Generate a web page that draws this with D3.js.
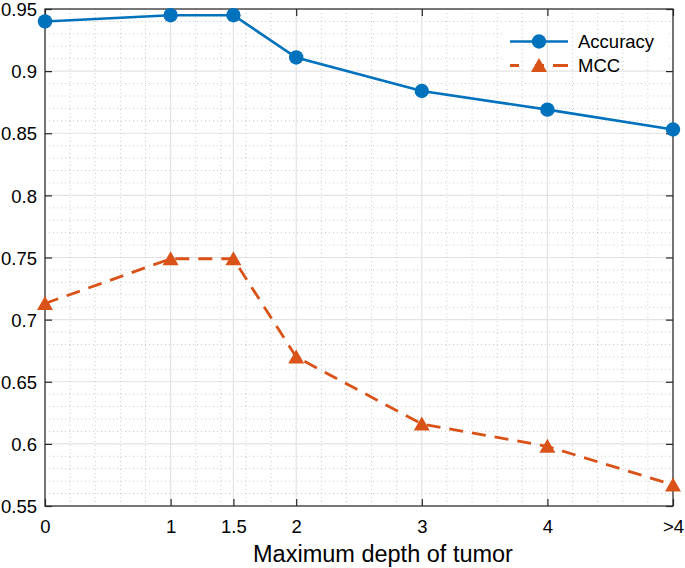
<!DOCTYPE html>
<html><head><meta charset="utf-8">
<script src="https://cdn.jsdelivr.net/npm/d3@7"></script>
<style>body{margin:0;background:#fff}svg{display:block}text{font-family:"Liberation Sans",Arial,Helvetica,sans-serif;fill:#000}</style>
</head><body>
<svg id="c" width="685" height="568"></svg>
<script>
const xPositions = [0, 1, 1.5, 2, 3, 4, 5];
const xTickLabels = ["0", "1", "1.5", "2", "3", "4", ">4"];
const accuracy = [0.940, 0.945, 0.945, 0.911, 0.884, 0.869, 0.853];
const mcc = [0.713, 0.749, 0.749, 0.670, 0.616, 0.598, 0.567];
const yTicks = [0.55, 0.6, 0.65, 0.7, 0.75, 0.8, 0.85, 0.9, 0.95];
const yTickLabels = ["0.55", "0.6", "0.65", "0.7", "0.75", "0.8", "0.85", "0.9", "0.95"];
const seriesNames = ["Accuracy", "MCC"];

const svg = d3.select("#c");
const L = 45, R = 673, T = 9, B = 506;
const x = d3.scaleLinear().domain([0, 5]).range([L, R]);
const y = d3.scaleLinear().domain([0.55, 0.95]).range([B, T]);
const blue = "#0072BD", orange = "#D95319";

// minor horizontal grid
const yMinor = d3.range(55, 96).map(v => v / 100).filter(v => !yTicks.some(t => Math.abs(t - v) < 1e-9));
svg.append("g").selectAll("line").data(yMinor).join("line")
  .attr("x1", L).attr("x2", R).attr("y1", d => y(d)).attr("y2", d => y(d))
  .attr("stroke", "#bdbdbd").attr("stroke-width", 0.8).attr("stroke-dasharray", "1,3");
// major horizontal grid
svg.append("g").selectAll("line").data(yTicks).join("line")
  .attr("x1", L).attr("x2", R).attr("y1", d => y(d)).attr("y2", d => y(d))
  .attr("stroke", "#e3e3e3").attr("stroke-width", 1.2);

// legend background
svg.append("rect").attr("x", 505).attr("y", 28).attr("width", 163).attr("height", 41).attr("fill", "#fff");

// minor vertical grid
const xMinor = d3.range(0, 26).map(v => v / 5).filter(v => !xPositions.some(t => Math.abs(t - v) < 1e-9));
svg.append("g").selectAll("line").data(xMinor).join("line")
  .attr("y1", T).attr("y2", B).attr("x1", d => x(d)).attr("x2", d => x(d))
  .attr("stroke", "#bdbdbd").attr("stroke-width", 0.8).attr("stroke-dasharray", "1,3");
// major vertical grid
svg.append("g").selectAll("line").data(xPositions).join("line")
  .attr("y1", T).attr("y2", B).attr("x1", d => x(d)).attr("x2", d => x(d))
  .attr("stroke", "#e3e3e3").attr("stroke-width", 1.2);

// axes box
svg.append("rect").attr("x", L).attr("y", T).attr("width", R - L).attr("height", B - T)
  .attr("fill", "none").attr("stroke", "#262626").attr("stroke-width", 1.2);

const bottomAxis = d3.axisBottom(x).tickValues(xPositions).tickFormat((d, i) => xTickLabels[i]).tickSizeInner(-7).tickSizeOuter(0).tickPadding(14);
const gb = svg.append("g").attr("transform", `translate(0,${B})`).call(bottomAxis);
const topAxis = d3.axisTop(x).tickValues(xPositions).tickFormat("").tickSizeInner(-7).tickSizeOuter(0);
const gt = svg.append("g").attr("transform", `translate(0,${T})`).call(topAxis);
const leftAxis = d3.axisLeft(y).tickValues(yTicks).tickFormat((d, i) => yTickLabels[i]).tickSizeInner(-7).tickSizeOuter(0).tickPadding(8);
const gl = svg.append("g").attr("transform", `translate(${L},0)`).call(leftAxis);
const rightAxis = d3.axisRight(y).tickValues(yTicks).tickFormat("").tickSizeInner(-7).tickSizeOuter(0);
const gr = svg.append("g").attr("transform", `translate(${R},0)`).call(rightAxis);
[gb, gt, gl, gr].forEach(g => {
  g.select(".domain").remove();
  g.selectAll(".tick line").attr("stroke", "#262626").attr("stroke-width", 1.2);
  g.selectAll("text").attr("font-size", 18.5).attr("font-family", '"Liberation Sans",Arial,sans-serif').attr("fill", "#000");
});
gl.selectAll("text").attr("dy", "0.36em");
gb.selectAll("text").attr("dy", "0.71em");

// x label
svg.append("text").attr("x", 383).attr("y", 562).attr("text-anchor", "middle")
  .attr("font-size", 23.5).text("Maximum depth of tumor");

// lines
const lineGen = d3.line().x((d, i) => x(xPositions[i])).y(d => y(d));
svg.append("path").datum(accuracy).attr("d", lineGen).attr("fill", "none").attr("stroke", blue).attr("stroke-width", 2.6);
svg.append("path").datum(mcc).attr("d", lineGen).attr("fill", "none").attr("stroke", orange).attr("stroke-width", 2.8).attr("stroke-dasharray", "14,9");

const tri = (cx, cy) => `M${cx},${cy - 7.5}L${cx + 8},${cy + 6.5}L${cx - 8},${cy + 6.5}Z`;
svg.append("g").selectAll("circle").data(accuracy).join("circle")
  .attr("cx", (d, i) => x(xPositions[i])).attr("cy", d => y(d)).attr("r", 7.2).attr("fill", blue);
svg.append("g").selectAll("path").data(mcc).join("path")
  .attr("d", (d, i) => tri(x(xPositions[i]), y(d))).attr("fill", orange);

// legend
const lg = svg.append("g");
lg.append("line").attr("x1", 510).attr("x2", 568).attr("y1", 41.5).attr("y2", 41.5).attr("stroke", blue).attr("stroke-width", 2.6);
lg.append("circle").attr("cx", 539).attr("cy", 41.5).attr("r", 7.2).attr("fill", blue);
lg.append("line").attr("x1", 510).attr("x2", 568).attr("y1", 65.5).attr("y2", 65.5).attr("stroke", orange).attr("stroke-width", 2.8).attr("stroke-dasharray", "9,16,9");
lg.append("path").attr("d", tri(539, 65.5)).attr("fill", orange);
lg.selectAll("text.l").data(seriesNames).join("text").attr("class", "l")
  .attr("x", 578).attr("y", (d, i) => 48 + i * 24).attr("font-size", 18.5).text(d => d);
</script>
</body></html>
